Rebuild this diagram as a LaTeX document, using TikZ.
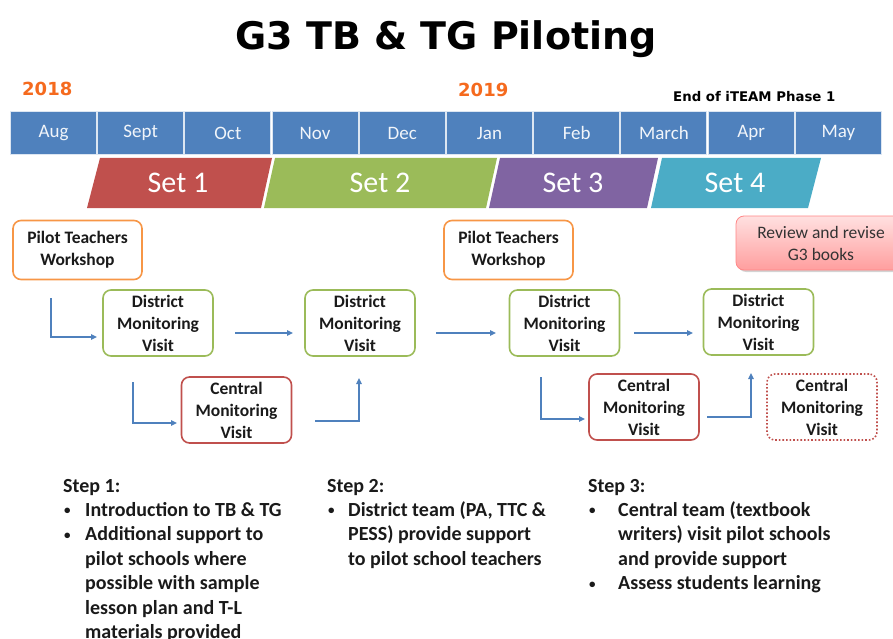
\documentclass[tikz,border=0pt]{standalone}
\usepackage{fontspec}
\setmainfont{Carlito}
\newfontfamily\headfont{DejaVu Sans}
\usetikzlibrary{arrows.meta,shadows}

\definecolor{mblue}{HTML}{4F81BD}
\definecolor{setred}{HTML}{C0504D}
\definecolor{setgreen}{HTML}{9BBB59}
\definecolor{setpurple}{HTML}{8064A2}
\definecolor{setcyan}{HTML}{4BACC6}
\definecolor{yearorange}{HTML}{F56A1E}
\definecolor{boxorange}{HTML}{F79646}
\definecolor{inkdark}{HTML}{1A1A1A}

\tikzset{
  month/.style={rectangle, fill=mblue, draw=white!80!mblue, line width=1pt,
    minimum width=86pt, minimum height=43pt, inner sep=0pt,
    text=white!92!mblue, font=\fontsize{19}{22}\selectfont},
  settext/.style={text=white, inner sep=0pt, font=\fontsize{30}{34}\selectfont},
  evbox/.style={rectangle, rounded corners=8pt, line width=1.6pt, fill=white,
    align=center, inner sep=0pt, text=inkdark,
    font=\bfseries\fontsize{17.5}{22}\selectfont},
  workshop/.style={evbox, draw=boxorange, minimum width=129pt, minimum height=59pt},
  district/.style={evbox, draw=setgreen, minimum width=110pt, minimum height=66pt},
  central/.style={evbox, draw=setred, minimum width=110pt, minimum height=66pt},
  plannedbox/.style={central, dotted},
  flow/.style={draw=mblue, line width=1.4pt, -{Triangle[length=6pt,width=5.5pt]}},
  steptext/.style={inner sep=0pt, text=inkdark, font=\bfseries\fontsize{20}{24.4}\selectfont},
  yeartext/.style={inner sep=0pt, text=yearorange, font=\headfont\bfseries\fontsize{18}{20}\selectfont}
}

% small bullet in a fixed-width column
\newcommand\bulletcol[1]{\makebox[#1][l]{\hspace{1pt}\raisebox{1.5pt}{\fontsize{13}{13}\selectfont\textbullet}}}

\begin{document}
\begin{tikzpicture}[x=1pt,y=-1pt]
\useasboundingbox (0,0) rectangle (893,639);
\clip (0,0) rectangle (893,639);

% title
\node[inner sep=0pt, anchor=base, font=\headfont\bfseries\fontsize{38}{40}\selectfont]
  (title) at (446,50) {G3 TB \& TG Piloting};

% years and phase note
\node[yeartext, anchor=base west] (y2018) at (22,96) {2018};
\node[yeartext, anchor=base west] (y2019) at (458,97) {2019};
\node[inner sep=0pt, anchor=base west, font=\headfont\bfseries\fontsize{13.3}{16}\selectfont]
  (phase) at (673,102) {End of iTEAM Phase 1};

% month strip
\foreach \m [count=\i from 0] in {Aug,Sept,Oct,Nov,Dec,Jan,Feb,March,Apr,May}
  \node[month] (m\i) at (53.5+87.2*\i,133) {\m};

% textbook sets
\fill[setred]    (100,158) -- (272,158) -- (261,208) -- (87,208)  -- cycle;
\fill[setgreen]  (275,158) -- (497,158) -- (486,208) -- (264,208) -- cycle;
\fill[setpurple] (500,158) -- (658,158) -- (647,208) -- (489,208) -- cycle;
\fill[setcyan]   (662,158) -- (821,158) -- (808,208) -- (651,208) -- cycle;
\node[settext] (set1) at (178,183) {Set 1};
\node[settext] (set2) at (380,183) {Set 2};
\node[settext] (set3) at (573,183) {Set 3};
\node[settext] (set4) at (735,183) {Set 4};

% review box
\node[rectangle, rounded corners=8pt, minimum width=170pt, minimum height=54pt,
  inner sep=0pt, draw=red!30!pink, line width=0.8pt,
  top color=red!12, bottom color=red!38, drop shadow={shadow xshift=2pt, shadow yshift=-2pt, opacity=0.35},
  align=center, text=black!80, font=\fontsize{17.5}{22}\selectfont]
  (review) at (821,243) {Review and revise\\G3 books};

% activities
\node[workshop] (w1) at (77.5,250) {Pilot Teachers\\Workshop};
\node[workshop] (w2) at (508.5,250) {Pilot Teachers\\Workshop};
\node[district] (d1) at (158,323) {District\\Monitoring\\Visit};
\node[district] (d2) at (360,323) {District\\Monitoring\\Visit};
\node[district] (d3) at (564.5,323) {District\\Monitoring\\Visit};
\node[district] (d4) at (758.5,322) {District\\Monitoring\\Visit};
\node[central] (c1) at (236.5,410) {Central\\Monitoring\\Visit};
\node[central] (c2) at (644,407) {Central\\Monitoring\\Visit};
\node[plannedbox] (c3) at (822,407) {Central\\Monitoring\\Visit};

% arrow end points
\coordinate (a1s) at (51,298);  \coordinate (a1e) at (97,337);
\coordinate (a2s) at (133,382); \coordinate (a2e) at (177,423);
\coordinate (a3s) at (235,333); \coordinate (a3e) at (293,333);
\coordinate (a4s) at (315,421); \coordinate (a4e) at (359,378);
\coordinate (a5s) at (436,333); \coordinate (a5e) at (496,333);
\coordinate (a6s) at (541,377); \coordinate (a6e) at (585,419);
\coordinate (a7s) at (634,333); \coordinate (a7e) at (693,333);
\coordinate (a8s) at (707,417); \coordinate (a8e) at (751,373);

\draw[flow] (a1s) |- (a1e);
\draw[flow] (a2s) |- (a2e);
\draw[flow] (a3s) -- (a3e);
\draw[flow] (a4s) -| (a4e);
\draw[flow] (a5s) -- (a5e);
\draw[flow] (a6s) |- (a6e);
\draw[flow] (a7s) -- (a7e);
\draw[flow] (a8s) -| (a8e);

% steps
\node[steptext, anchor=base west] (s1) at (63,492) {\begin{tabular}[t]{@{}l@{}l@{}}
  \multicolumn{2}{@{}l@{}}{Step 1:}\\
  \bulletcol{22pt} & Introduction to TB \& TG\\
  \bulletcol{22pt} & Additional support to\\
   & pilot schools where\\
   & possible with sample\\
   & lesson plan and T-L\\
   & materials provided
\end{tabular}};

\node[steptext, anchor=base west] (s2) at (327,492) {\begin{tabular}[t]{@{}l@{}l@{}}
  \multicolumn{2}{@{}l@{}}{Step 2:}\\
  \bulletcol{21pt} & District team (PA, TTC \&\\
   & PESS) provide support\\
   & to pilot school teachers
\end{tabular}};

\node[steptext, anchor=base west] (s3) at (588,492) {\begin{tabular}[t]{@{}l@{}l@{}}
  \multicolumn{2}{@{}l@{}}{Step 3:}\\
  \bulletcol{30pt} & Central team (textbook\\
   & writers) visit pilot schools\\
   & and provide support\\
  \bulletcol{30pt} & Assess students learning
\end{tabular}};
\end{tikzpicture}
\end{document}
